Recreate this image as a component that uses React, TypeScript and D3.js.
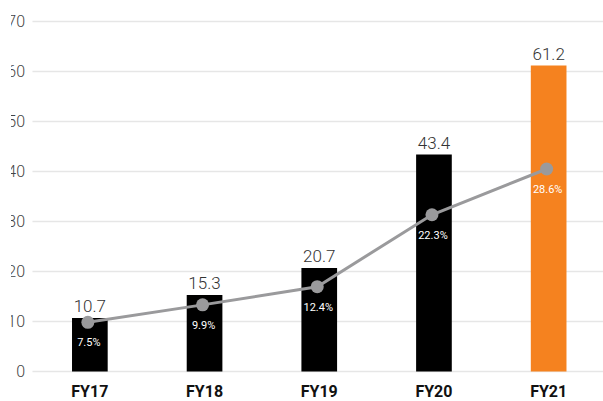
import React from "react";
import * as d3 from "d3";

// Fiscal-year revenue bars with a growth-share line overlaid
const years = ["FY17", "FY18", "FY19", "FY20", "FY21"];
const revenue = [10.7, 15.3, 20.7, 43.4, 61.2];
const share = [7.5, 9.9, 12.4, 22.3, 28.6];
const shareLabels = ["7.5%", "9.9%", "12.4%", "22.3%", "28.6%"];
const yTicks = [0, 10, 20, 30, 40, 50, 60, 70];
const highlightYear = "FY21";

const W = 603;
const H = 401;

export default function App() {
  const x = d3
    .scaleBand<string>()
    .domain(years)
    .range([32.5, 606])
    .paddingInner(0.689)
    .paddingOuter(0.3445);

  const y = d3.scaleLinear().domain([0, 70]).range([371.5, 21.5]);
  const yPct = d3.scaleLinear().domain([0, 48.9]).range([376.8, 21.5]);

  const cx = (d: string) => (x(d) ?? 0) + x.bandwidth() / 2;

  const line = d3
    .line<number>()
    .x((_, i) => cx(years[i]) - 2)
    .y((v) => yPct(v));

  const font = "Roboto, 'Noto Sans', sans-serif";

  return (
    <svg
      width={W}
      height={H}
      style={{ position: "absolute", left: 0, top: 0, background: "#fff" }}
      fontFamily={font}
    >
      <defs>
        <clipPath id="tickClip">
          <rect x={11} y={0} width={40} height={H} />
        </clipPath>
      </defs>

      {/* horizontal grid */}
      {yTicks.map((t) => (
        <line
          key={`g${t}`}
          x1={32.5}
          x2={W}
          y1={y(t)}
          y2={y(t)}
          stroke="#e6e6e6"
          strokeWidth={1.5}
        />
      ))}

      {/* value axis labels */}
      <g clipPath="url(#tickClip)">
        {yTicks.map((t) => (
          <text
            key={`t${t}`}
            x={25}
            y={y(t)}
            dy="0.36em"
            textAnchor="end"
            fontSize={16}
            fontWeight={300}
            fill="#444"
          >
            {t}
          </text>
        ))}
      </g>

      {/* bars */}
      {years.map((yr, i) => (
        <rect
          key={`b${yr}`}
          x={x(yr)}
          y={y(revenue[i])}
          width={x.bandwidth()}
          height={y(0) - y(revenue[i])}
          fill={yr === highlightYear ? "#F5821F" : "#000"}
        />
      ))}

      {/* bar value labels */}
      {years.map((yr, i) => (
        <text
          key={`v${yr}`}
          x={cx(yr)}
          y={y(revenue[i]) - 6}
          textAnchor="middle"
          fontSize={17}
          fontWeight={300}
          fill="#333"
        >
          {revenue[i]}
        </text>
      ))}

      {/* share line */}
      <path d={line(share) ?? ""} fill="none" stroke="#9a9a9c" strokeWidth={3} />
      {years.map((yr, i) => (
        <circle key={`c${yr}`} cx={cx(yr) - 2} cy={yPct(share[i])} r={6.5} fill="#9a9a9c" />
      ))}
      {years.map((yr, i) => (
        <text
          key={`p${yr}`}
          x={cx(yr) - 1}
          y={yPct(share[i]) + 20}
          dy="0.35em"
          textAnchor="middle"
          fontSize={11}
          fill="#fff"
        >
          {shareLabels[i]}
        </text>
      ))}

      {/* category labels */}
      {years.map((yr) => (
        <text
          key={`x${yr}`}
          x={cx(yr)}
          y={396.5}
          textAnchor="middle"
          fontSize={16}
          fontWeight={700}
          fill="#111"
        >
          {yr}
        </text>
      ))}
    </svg>
  );
}
